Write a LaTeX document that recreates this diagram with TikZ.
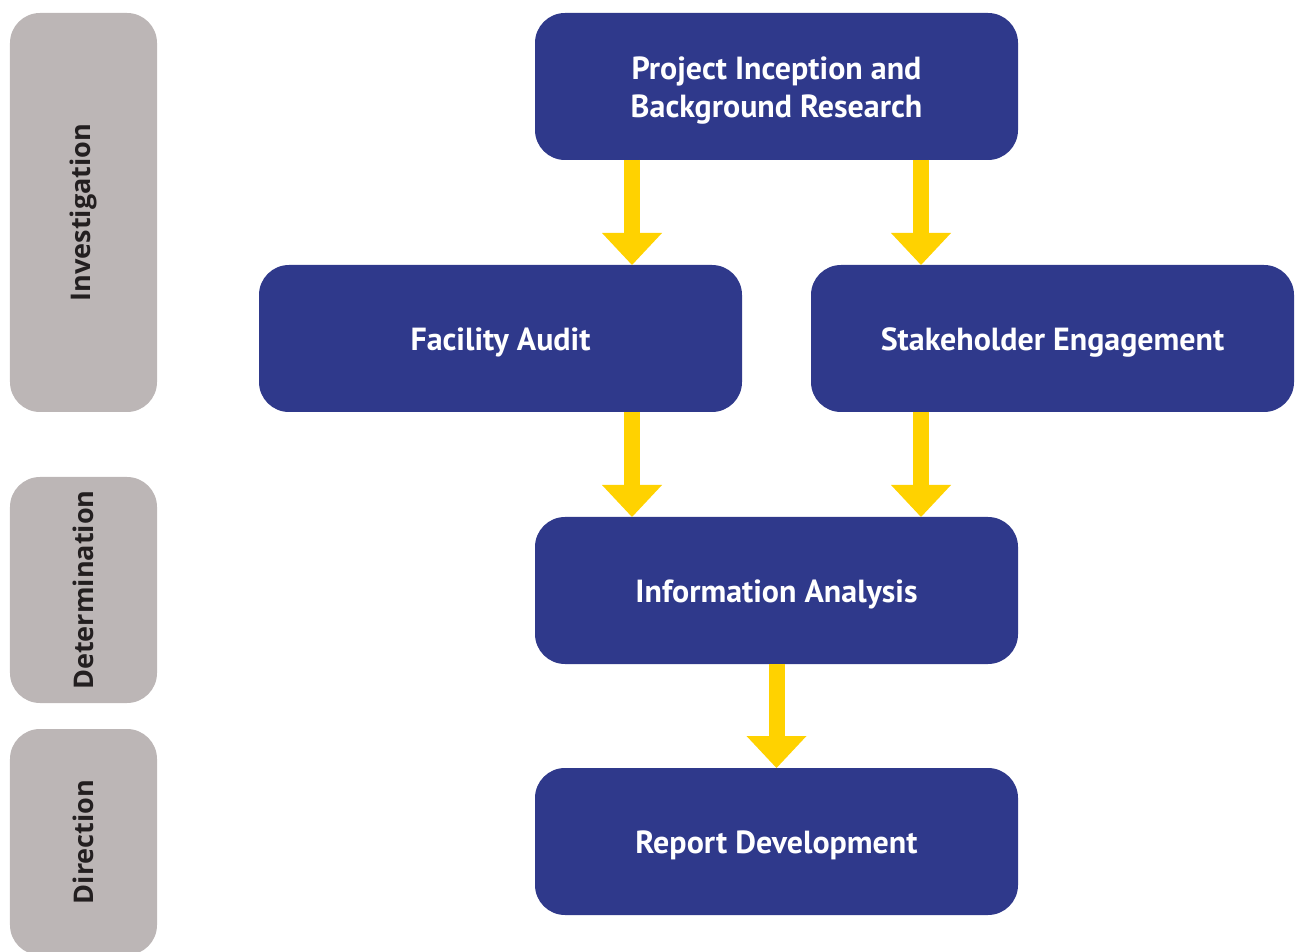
\documentclass[tikz,border=0pt]{standalone}
\usepackage{fontspec}
\setmainfont{PT Sans}
\newfontfamily\phasefont{Open Sans}
\usepackage{xcolor}
\usepackage{tikz}
\usetikzlibrary{shapes, arrows.meta, calc, positioning}
\definecolor{navy}{RGB}{47,57,139}
\definecolor{gold}{RGB}{255,210,0}
\definecolor{stone}{RGB}{188,182,182}
\definecolor{ink}{RGB}{35,31,32}
\tikzstyle{stepbox} = [rectangle, fill=navy, text=white, rounded corners=0.6cm,
    minimum width=9.66cm, minimum height=2.94cm, outer sep=0pt, align=center,
    text height=0.62cm, font=\fontsize{18.2}{21.5}\selectfont\bfseries]
\tikzstyle{phase} = [rectangle, fill=stone, text=ink, rounded corners=0.6cm,
    rotate=90, minimum height=2.94cm, outer sep=0pt,
    font=\fontsize{15.4}{18}\selectfont\phasefont\bfseries]
\tikzstyle{line} = [draw=gold, line width=0.32cm,
    -{Triangle[width=1.2cm, length=0.64cm, line width=0pt]}]

\begin{document}
\begin{tikzpicture}[node distance = 5cm, auto]
    \useasboundingbox (0,0) rectangle (25.9,19.02);
    \clip (0,0) rectangle (25.9,19.02);
    % Phases
    \node [phase, minimum width=7.98cm] (inv) at (1.67,14.77) {Investigation};
    \node [phase, minimum width=4.52cm] (det) at (1.67,7.22) {Determination};
    \node [phase, minimum width=4.52cm] (dir) at (1.67,2.18) {Direction};
    % Nodes
    \node [stepbox, text height=1.38cm] (pi) at (15.53,17.29) {Project Inception and\\Background Research};
    \node [stepbox, below of=pi, node distance=5.04cm, xshift=-5.52cm] (fa) {Facility Audit};
    \node [stepbox, right of=fa, node distance=11.04cm] (se) {Stakeholder Engagement};
    \node [stepbox, below of=pi, node distance=10.08cm] (ia) {Information Analysis};
    \node [stepbox, below of=ia, node distance=5.02cm] (rd) {Report Development};
    % Edges
    \path [line] ([xshift=-2.89cm]pi.south) -- ([xshift=-2.89cm]pi.south |- fa.north);
    \path [line] ([xshift=2.89cm]pi.south) -- ([xshift=2.89cm]pi.south |- se.north);
    \path [line] ([xshift=-2.89cm]ia.north |- fa.south) -- ([xshift=-2.89cm]ia.north);
    \path [line] ([xshift=2.89cm]ia.north |- se.south) -- ([xshift=2.89cm]ia.north);
    \path [line] (ia) -- (rd);
\end{tikzpicture}
\end{document}
